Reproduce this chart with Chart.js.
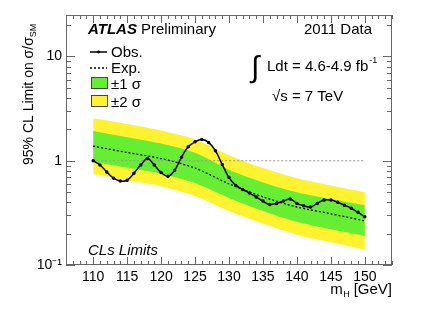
<!DOCTYPE html>
<html>
<head>
<meta charset="utf-8">
<script src="https://cdn.jsdelivr.net/npm/chart.js@4.4.0/dist/chart.umd.min.js"></script>
<style>
  html, body { margin: 0; padding: 0; background: #fff; }
</style>
</head>
<body>
<canvas id="chart" width="436" height="316"></canvas>
<script>
// observed limit, one point per GeV
const obsMass = [110,111,112,113,114,115,116,117,118,119,120,121,122,123,124,125,126,127,128,129,130,
                 131,132,133,134,135,136,137,138,139,140,141,142,143,144,145,146,147,148,149,150];
const observed = [1.00,0.91,0.78,0.68,0.64,0.65,0.76,0.91,1.05,0.91,0.77,0.71,0.81,1.08,1.36,1.52,1.60,1.50,1.25,0.92,0.69,
                  0.58,0.53,0.49,0.45,0.41,0.38,0.39,0.41,0.43,0.39,0.37,0.36,0.39,0.42,0.42,0.40,0.375,0.35,0.32,0.29];

// expected limit and bands
const bandMass = [110,115,120,125,130,135,140,145,150];
const expected = [1.38,1.20,1.05,0.85,0.60,0.45,0.36,0.31,0.265];
const plus1 = [1.93,1.68,1.46,1.19,0.82,0.62,0.50,0.43,0.375];
const minus1 = [0.98,0.86,0.75,0.61,0.44,0.33,0.26,0.22,0.19];
const plus2 = [2.55,2.25,1.95,1.60,1.13,0.85,0.68,0.58,0.50];
const minus2 = [0.745,0.65,0.57,0.46,0.33,0.25,0.195,0.165,0.14];

const xTicks = [110,115,120,125,130,135,140,145,150];
const yTicks = [0.1, 1, 10];
const yTickLabels = ["10\u207B\u00B9", "1", "10"];

const FONT = "'Liberation Sans', Arial, Helvetica, sans-serif";

function pts(xs, ys) {
  return xs.map((x, i) => ({ x: x, y: ys[i] }));
}

function text(ctx, str, x, y, size, opts = {}) {
  ctx.font = (opts.style || "") + " " + size + "px " + FONT;
  ctx.textAlign = opts.align || "left";
  ctx.textBaseline = "alphabetic";
  ctx.fillStyle = "#000";
  ctx.fillText(str, x, y);
  return ctx.measureText(str).width;
}

const decorations = {
  id: "decorations",
  afterDraw(chart) {
    const ctx = chart.ctx;
    const a = chart.chartArea;
    const xs = chart.scales.x, ys = chart.scales.y;
    ctx.save();

    // frame
    ctx.strokeStyle = "#666";
    ctx.lineWidth = 1;
    ctx.strokeRect(a.left + 0.5, a.top + 0.5, a.right - a.left - 1, a.bottom - a.top - 1);

    // x ticks (bottom and top)
    ctx.beginPath();
    for (let m = 107; m <= 154; m++) {
      const px = Math.round(xs.getPixelForValue(m)) + 0.5;
      const len = (m % 5 === 0) ? 8 : 4;
      ctx.moveTo(px, a.bottom); ctx.lineTo(px, a.bottom - len);
      ctx.moveTo(px, a.top); ctx.lineTo(px, a.top + len);
    }
    // y ticks (left and right)
    for (let d = 0.1; d < 30; d *= 10) {
      for (let k = 1; k <= 9; k++) {
        const v = d * k;
        if (v > ys.max) break;
        const py = Math.round(ys.getPixelForValue(v)) + 0.5;
        const len = (k === 1) ? 9 : 5;
        ctx.moveTo(a.left, py); ctx.lineTo(a.left + len, py);
        ctx.moveTo(a.right, py); ctx.lineTo(a.right - len, py);
      }
    }
    ctx.stroke();

    // labels
    text(ctx, "ATLAS", 88, 34, 15, { style: "italic bold" });
    text(ctx, "Preliminary", 141, 34, 15);
    text(ctx, "2011 Data", 372, 34, 15, { align: "right" });

    text(ctx, "\u222B", 251, 77, 30);
    const w = text(ctx, "Ldt = 4.6-4.9 fb", 267, 71, 15);
    text(ctx, "-1", 267 + w + 1, 63, 9);
    text(ctx, "\u221As = 7 TeV", 272, 101, 15);

    text(ctx, "CLs Limits", 88, 255, 15, { style: "italic" });

    // legend
    ctx.strokeStyle = "#000";
    ctx.lineWidth = 1.5;
    ctx.beginPath(); ctx.moveTo(90, 52); ctx.lineTo(107, 52); ctx.stroke();
    ctx.fillStyle = "#000";
    ctx.beginPath(); ctx.arc(98.5, 52, 1.4, 0, Math.PI * 2); ctx.fill();
    text(ctx, "Obs.", 111, 57, 15);
    ctx.setLineDash([2, 2]);
    ctx.lineWidth = 1.3;
    ctx.beginPath(); ctx.moveTo(90, 68); ctx.lineTo(107, 68); ctx.stroke();
    ctx.setLineDash([]);
    text(ctx, "Exp.", 111, 73, 15);
    ctx.lineWidth = 1;
    ctx.fillStyle = "#66ee33"; ctx.fillRect(91, 77, 16, 11);
    ctx.strokeStyle = "#444"; ctx.strokeRect(91.5, 77.5, 16, 11);
    text(ctx, "\u00B11 \u03C3", 111, 89, 15);
    ctx.fillStyle = "#fff22e"; ctx.fillRect(91, 95, 16, 11);
    ctx.strokeRect(91.5, 95.5, 16, 11);
    text(ctx, "\u00B12 \u03C3", 111, 107, 15);

    // axis titles
    const xw = text(ctx, "[GeV]", 392, 294, 15, { align: "right" });
    text(ctx, "H", 392 - xw - 4, 297, 9, { align: "right" });
    text(ctx, "m", 392 - xw - 11, 294, 15, { align: "right" });

    ctx.translate(33, 165);
    ctx.rotate(-Math.PI / 2);
    const tw = text(ctx, "95% CL Limit on \u03C3/\u03C3", 0, 0, 14);
    text(ctx, "SM", tw, 3, 9);
    ctx.restore();
  }
};

new Chart(document.getElementById("chart"), {
  type: "line",
  data: {
    datasets: [
      {
        label: "Obs.",
        data: pts(obsMass, observed),
        borderColor: "#000", backgroundColor: "#000",
        borderWidth: 1.5, pointRadius: 1, pointHoverRadius: 0,
        tension: 0.35, fill: false
      },
      {
        label: "Exp.",
        data: pts(bandMass, expected),
        borderColor: "#000", borderWidth: 1.3, borderDash: [2, 2],
        pointRadius: 0, tension: 0.3, fill: false
      },
      {
        label: "one",
        data: pts([110, 150], [1, 1]),
        borderColor: "#999", borderWidth: 1, borderDash: [2, 2],
        pointRadius: 0, fill: false
      },
      {
        label: "+1 sigma",
        data: pts(bandMass, plus1),
        borderWidth: 0, pointRadius: 0, tension: 0.3,
        fill: "+1", backgroundColor: "#66ee33"
      },
      {
        label: "-1 sigma",
        data: pts(bandMass, minus1),
        borderWidth: 0, pointRadius: 0, tension: 0.3, fill: false
      },
      {
        label: "+2 sigma",
        data: pts(bandMass, plus2),
        borderWidth: 0, pointRadius: 0, tension: 0.3,
        fill: "+1", backgroundColor: "#fff22e"
      },
      {
        label: "-2 sigma",
        data: pts(bandMass, minus2),
        borderWidth: 0, pointRadius: 0, tension: 0.3, fill: false
      }
    ]
  },
  options: {
    responsive: false,
    animation: false,
    devicePixelRatio: 1,
    layout: { padding: { left: 0, top: 15, right: 44, bottom: 0 } },
    plugins: { legend: { display: false }, tooltip: { enabled: false } },
    scales: {
      x: {
        type: "linear", min: 106, max: 154,
        afterBuildTicks: s => { s.ticks = xTicks.map(v => ({ value: v })); },
        afterFit: s => { s.height = 51; },
        grid: { display: false, drawTicks: false }, border: { display: false },
        ticks: { color: "#000", padding: 4, font: { family: FONT, size: 14 }, maxRotation: 0 }
      },
      y: {
        type: "logarithmic", min: 0.1, max: 25,
        afterBuildTicks: s => { s.ticks = yTicks.map(v => ({ value: v })); },
        afterFit: s => { s.width = 66; },
        grid: { display: false, drawTicks: false }, border: { display: false },
        ticks: {
          color: "#000", padding: 4, font: { family: FONT, size: 14 },
          callback: (v) => yTickLabels[yTicks.indexOf(v)]
        }
      }
    }
  },
  plugins: [decorations]
});
</script>
</body>
</html>
